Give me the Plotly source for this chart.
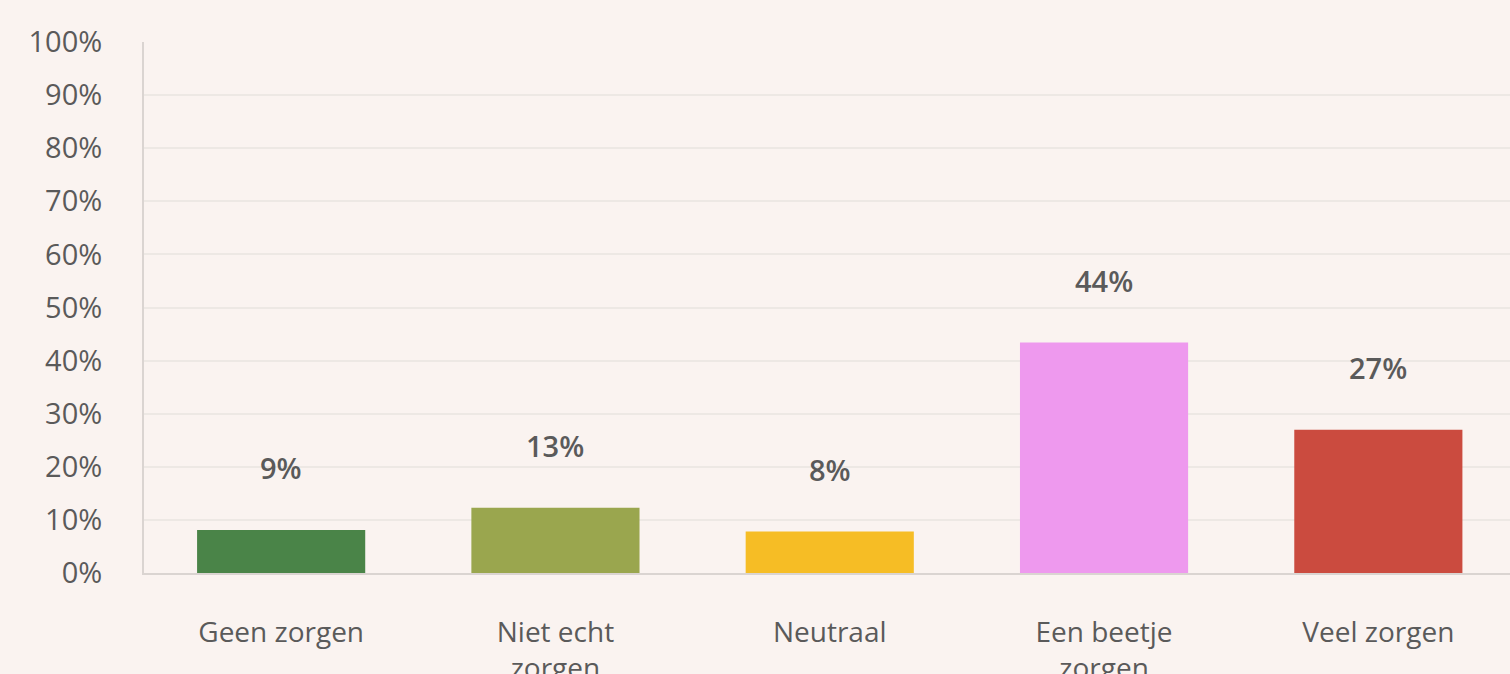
import plotly.graph_objects as go

categories = ["Geen zorgen", "Niet echt<br>zorgen", "Neutraal", "Een beetje<br>zorgen", "Veel zorgen"]
values = [8.1, 12.3, 7.8, 43.4, 27.0]
value_labels = ["9%", "13%", "8%", "44%", "27%"]
colors = ["#4A8448", "#9AA64E", "#F6BD25", "#EE99EE", "#CB4B3F"]
y_ticks = [0, 10, 20, 30, 40, 50, 60, 70, 80, 90, 100]
y_tick_labels = [f"{t}%" for t in y_ticks]

bg = "#FAF3F0"
text_color = "#5a5a5a"
font_family = "Open Sans, Lato, sans-serif"

fig = go.Figure()
fig.add_trace(go.Bar(
    x=list(range(len(categories))),
    y=values,
    marker=dict(color=colors, line=dict(width=0)),
    width=0.613,
    hoverinfo="skip",
))

for i, (v, lab) in enumerate(zip(values, value_labels)):
    fig.add_annotation(
        x=i, y=v, text=lab, showarrow=False,
        yanchor="middle", yshift=62,
        font=dict(family=font_family, size=29, color=text_color, weight=600),
    )

fig.update_layout(
    width=1510, height=674,
    paper_bgcolor=bg, plot_bgcolor=bg,
    margin=dict(l=144, r=0, t=42, b=101),
    showlegend=False,
    font=dict(family=font_family, color=text_color, size=28),
    xaxis=dict(
        range=[-0.5, 4.48],
        tickmode="array",
        tickvals=list(range(len(categories))),
        ticktext=categories,
        showgrid=False,
        zeroline=False,
        automargin=False,
        showline=True, linecolor="#DAD4D1", linewidth=2,
        ticks="", ticklabelstandoff=33,
        tickfont=dict(size=28, color=text_color, family=font_family),
    ),
    yaxis=dict(
        range=[0, 100],
        tickmode="array",
        tickvals=y_ticks,
        ticktext=y_tick_labels,
        showgrid=True, gridcolor="#EDE8E4", gridwidth=2,
        zeroline=False,
        automargin=False,
        showline=True, linecolor="#DAD4D1", linewidth=2,
        ticks="", ticklabelstandoff=34,
        tickfont=dict(size=29, color=text_color, family=font_family),
    ),
)

fig.write_html(
    "out.html",
    config={"displayModeBar": False},
    post_script="document.body.style.margin='0';document.body.style.background='#FAF3F0';",
)
